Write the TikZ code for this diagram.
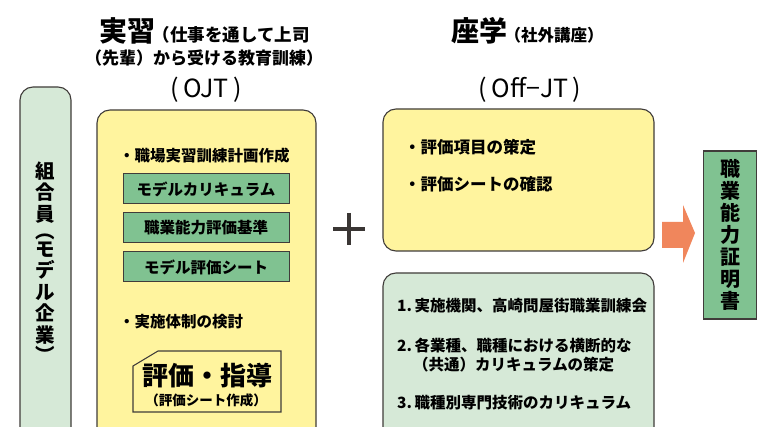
\documentclass[tikz,border=0pt]{standalone}
\usepackage{fontspec}
\setmainfont{Noto Sans CJK JP}
\usetikzlibrary{positioning}
\definecolor{linegray}{RGB}{64,60,58}
\definecolor{panelyellow}{RGB}{255,244,158}
\definecolor{palegreen}{RGB}{214,233,215}
\definecolor{midgreen}{RGB}{128,194,145}
\definecolor{arroworange}{RGB}{240,134,92}
\tikzset{
  panel/.style={draw=linegray,line width=1.1pt,rounded corners=13pt},
  menubox/.style={draw=linegray,line width=1pt,fill=midgreen,minimum width=166pt,
    minimum height=30pt,inner sep=0pt,font=\fontsize{15.5}{15.5}\selectfont\bfseries},
  item/.style={anchor=west,inner sep=0pt,font=\fontsize{15.5}{15.5}\selectfont\bfseries},
  title/.style={inner sep=0pt,font=\fontsize{28}{28}\selectfont\bfseries},
  subtitle/.style={inner sep=0pt,font=\fontsize{17.5}{17.5}\selectfont\bfseries},
  code/.style={inner sep=0pt,font=\fontsize{25}{25}\selectfont}
}

\begin{document}
\begin{tikzpicture}[x=1pt,y=-1pt]

    \clip (0,0) rectangle (771,427);
    \fill[white] (0,0) rectangle (771,427);

    % panels
    \draw[panel,fill=palegreen] % member
      (20,87) rectangle (71,450);
    \draw[panel,fill=panelyellow] % OJT
      (97,110) rectangle (316,450);
    \draw[panel,fill=panelyellow] % Off-JT (top)
      (383,109) rectangle (654,251);
    \draw[panel,fill=palegreen] % Off-JT (bottom)
      (383,273) rectangle (654,450);

    % headings
    \node[title,anchor=base west] (ojt) at (99,42) {実習};
    \node[subtitle,right=-3pt of ojt.base east,anchor=base west] (ojtnote) {（仕事を通して上司};
    \node[subtitle,font=\fontsize{17}{17}\selectfont\bfseries,anchor=base] (ojtnote2) at (204,65) {（先輩）から受ける教育訓練）};
    \node[code,anchor=base] (ojtcode) at (206,98) {(\,OJT\,)};
    \node[title,anchor=base west] (off) at (451,42) {座学};
    \node[inner sep=0pt,font=\fontsize{16.5}{16.5}\selectfont\bfseries,
      right=-3pt of off.base east,anchor=base west] (offnote) {（社外講座）};
    \node[code,anchor=base] (offcode) at (530,98) {(\,Off−JT\,)};

    % member (vertical)
    \node[inner sep=0pt,align=center,font=\fontsize{19.5}{21.5}\selectfont\bfseries]
      (member) at (45.5,262) {組\\合\\員\\[-4pt]︵\\[-4pt]モ\\デ\\ル\\企\\業\\[-1pt]︶};

    % OJT contents
    \node[item] (plan) at (119,156) {・職場実習訓練計画作成};
    \node[menubox] (curr) at (206,189) {モデルカリキュラム};
    \node[menubox,below=8pt of curr] (crit) {職業能力評価基準};
    \node[menubox,below=8pt of crit] (sheet) {モデル評価シート};
    \node[item] (setup) at (119,322) {・実施体制の検討};
    \draw[draw=linegray,line width=1.1pt,fill=panelyellow]
      (133,366) -- (158,351) -- (281,351) -- (281,412) -- (133,412) -- cycle;
    \node[inner sep=0pt,font=\fontsize{26}{26}\selectfont\bfseries] (guide) at (207,376) {評価・指導};
    \node[inner sep=0pt,font=\fontsize{13.5}{13.5}\selectfont\bfseries] (guidenote) at (206,400) {（評価シート作成）};

    % plus
    \draw[line width=4.5pt,color=linegray!90!black]
      (333,229) -- (365,229)
      (349,213) -- (349,245);

    % Off-JT contents
    \node[item,font=\fontsize{16.5}{16.5}\selectfont\bfseries] (items) at (404,147) {・評価項目の策定};
    \node[item,font=\fontsize{16.5}{16.5}\selectfont\bfseries] (check) at (404,184) {・評価シートの確認};
    \node[item] (org) at (397,306) {1.\,実施機関、高崎問屋街職業訓練会};
    \node[item] (common) at (397,346) {2.\,各業種、職種における横断的な};
    \node[item] (common2) at (413,365) {（共通）カリキュラムの策定};
    \node[item] (special) at (397,403) {3.\,職種別専門技術のカリキュラム};

    % arrow
    \fill[arroworange]
      (662,222) -- (683,222) -- (683,205) -- (695,233) -- (683,263) -- (683,248) -- (662,248) -- cycle;

    % certificate
    \node[draw=linegray,line width=1.1pt,fill=midgreen,minimum width=53pt,minimum height=168pt,
      inner sep=0pt,align=center,font=\fontsize{20}{22}\selectfont\bfseries]
      (cert) at (730,235) {職\\業\\能\\力\\証\\明\\書};

  \end{tikzpicture}
\end{document}
